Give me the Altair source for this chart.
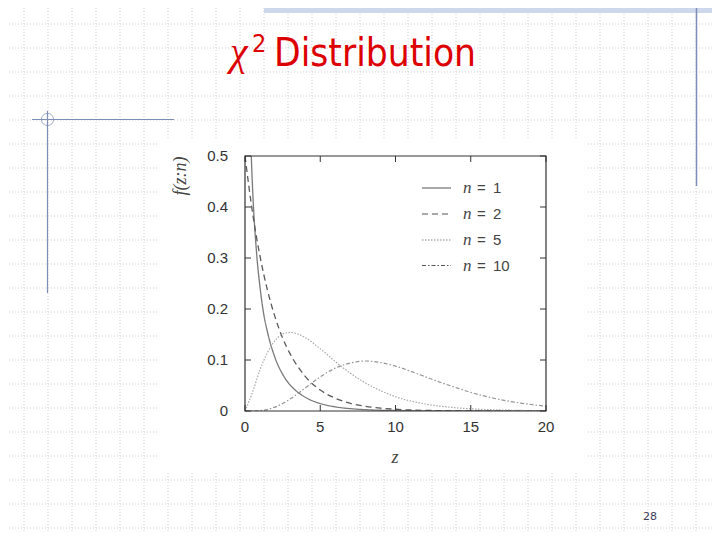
import altair as alt
import pandas as pd

# ---------------- data ----------------
series = ["1", "2", "5", "10"]
z1 = [0.3, 0.4, 0.5, 0.75, 1, 1.25, 1.5, 2, 2.5, 3, 3.5, 4, 5, 6, 7, 8, 10, 12, 15, 20]
f1 = [0.627, 0.516, 0.439, 0.317, 0.242, 0.189, 0.154, 0.104, 0.072, 0.051, 0.037, 0.027, 0.0146, 0.0081, 0.0046, 0.0026, 0.0009, 0.0003, 0.0001, 0.0]
z2 = [0, 0.5, 1, 1.5, 2, 2.5, 3, 4, 5, 6, 7, 8, 9, 10, 12, 15, 20]
f2 = [0.5, 0.389, 0.303, 0.236, 0.184, 0.143, 0.112, 0.068, 0.041, 0.025, 0.015, 0.0092, 0.0056, 0.0034, 0.0012, 0.0003, 0.0]
z5 = [0, 0.5, 1, 1.5, 2, 2.5, 3, 3.5, 4, 5, 6, 7, 8, 9, 10, 12, 14, 16, 18, 20]
f5 = [0, 0.037, 0.081, 0.115, 0.138, 0.151, 0.154, 0.151, 0.144, 0.122, 0.097, 0.074, 0.055, 0.040, 0.028, 0.0137, 0.0064, 0.0029, 0.0013, 0.0005]
z10 = [0, 1, 2, 3, 4, 5, 6, 7, 8, 9, 10, 11, 12, 13, 14, 15, 16, 17, 18, 19, 20]
f10 = [0, 0.0008, 0.0077, 0.0235, 0.045, 0.067, 0.084, 0.094, 0.098, 0.095, 0.088, 0.078, 0.067, 0.056, 0.046, 0.0365, 0.0286, 0.0221, 0.0169, 0.0127, 0.0095]
x_ticks = [0, 5, 10, 15, 20]
x_labels = ["0", "5", "10", "15", "20"]
y_ticks = [0, 0.1, 0.2, 0.3, 0.4, 0.5]
y_labels = ["0", "0.1", "0.2", "0.3", "0.4", "0.5"]
title_main = "Distribution"
page_no = "28"

# ---------------- styles ----------------
W, H = 301, 255
L, T = 237, 148          # plot origin inside the canvas
styles = {
    "1": dict(color="#7a7a7a", dash=[1, 0], w=1.3),
    "2": dict(color="#5a5a5a", dash=[6, 4], w=1.3),
    "5": dict(color="#a8a8a8", dash=[1.5, 1.5], w=1.2),
    "10": dict(color="#959595", dash=[4, 2, 1.5, 2], w=1.2),
}
zs = {"1": z1, "2": z2, "5": z5, "10": z10}
fs = {"1": f1, "2": f2, "5": f5, "10": f10}

xscale = alt.Scale(domain=[0, 20], nice=False, zero=False)
yscale = alt.Scale(domain=[0, 0.5], nice=False, zero=False)

def px(xp):   # page x -> plot-local x
    return xp - 8 - L

def py(yp):
    return yp - 8 - T

def X(field):
    return alt.X(field, scale=xscale, axis=None)

def Y(field):
    return alt.Y(field, scale=yscale, axis=None)

one = alt.Data(values=[{}])
layers = []

# dotted slide grid
grid_style = dict(color="#cfcfcf", strokeDash=[1, 2], strokeWidth=1)
for k in range(0, 31):
    layers.append(alt.Chart(one).mark_rule(**grid_style).encode(
        x=alt.value(px(24 * k)), y=alt.value(py(8)), y2=alt.value(py(540))))
for k in range(0, 23):
    layers.append(alt.Chart(one).mark_rule(**grid_style).encode(
        y=alt.value(py(24 * k)), x=alt.value(px(0)), x2=alt.value(px(720))))

# white picture box
layers.append(alt.Chart(one).mark_rect(color="white").encode(
    x=alt.value(px(158)), x2=alt.value(px(586)), y=alt.value(py(138)), y2=alt.value(py(471))))

# blue slide decorations
blue = "#7d8db5"
layers.append(alt.Chart(one).mark_rect(color="#cdd8ec").encode(
    x=alt.value(px(264)), x2=alt.value(px(720)), y=alt.value(py(8)), y2=alt.value(py(13))))
layers.append(alt.Chart(one).mark_rule(color=blue, strokeWidth=1.5).encode(
    x=alt.value(px(696.5)), y=alt.value(py(8)), y2=alt.value(py(186))))
layers.append(alt.Chart(one).mark_rule(color=blue, strokeWidth=1.2).encode(
    x=alt.value(px(32)), x2=alt.value(px(174)), y=alt.value(py(119.5))))
layers.append(alt.Chart(one).mark_rule(color=blue, strokeWidth=1.2).encode(
    x=alt.value(px(47.5)), y=alt.value(py(111)), y2=alt.value(py(293))))
layers.append(alt.Chart(one).mark_point(shape="circle", filled=False, color=blue, size=150, strokeWidth=1).encode(
    x=alt.value(px(47.5)), y=alt.value(py(119.5))))

# title
TFONT = "Liberation Sans Narrow, DejaVu Sans Condensed, Liberation Sans"
layers.append(alt.Chart(one).mark_text(text="\u03c7", font="Liberation Serif", fontStyle="italic", fontSize=40,
                                       color="#dd0000", align="left", baseline="alphabetic").encode(
    x=alt.value(px(230)), y=alt.value(py(65))))
layers.append(alt.Chart(one).mark_text(text="2", font=TFONT, fontSize=25, color="#dd0000",
                                       align="left", baseline="alphabetic").encode(
    x=alt.value(px(252)), y=alt.value(py(52))))
layers.append(alt.Chart(one).mark_text(text=title_main, font=TFONT, fontSize=38.5, color="#dd0000",
                                       align="left", baseline="alphabetic").encode(
    x=alt.value(px(274)), y=alt.value(py(66))))

# page number
layers.append(alt.Chart(one).mark_text(text=page_no, font="DejaVu Sans", fontSize=11, color="#3c3c5a",
                                       align="center", baseline="middle").encode(
    x=alt.value(px(650)), y=alt.value(py(517))))

# curves
for s in series:
    st = styles[s]
    df = pd.DataFrame({"z": zs[s], "f": fs[s]})
    layers.append(alt.Chart(df).mark_line(clip=True, color=st["color"], strokeDash=st["dash"],
                                          strokeWidth=st["w"], interpolate="monotone").encode(
        x=X("z:Q"), y=Y("f:Q")))

# plot frame
layers.append(alt.Chart(one).mark_rect(fill=None, stroke="#333333", strokeWidth=1.2).encode(
    x=alt.value(0), x2=alt.value(W), y=alt.value(0), y2=alt.value(H)))

# inward ticks (mirror on all sides) and tick labels
xt = pd.DataFrame({"z": x_ticks, "lab": x_labels})
yt = pd.DataFrame({"f": y_ticks, "lab": y_labels})
tick_style = dict(color="#333333", strokeWidth=1)
layers.append(alt.Chart(xt).mark_rule(**tick_style).encode(x=X("z:Q"), y=alt.value(H), y2=alt.value(H - 6)))
layers.append(alt.Chart(xt).mark_rule(**tick_style).encode(x=X("z:Q"), y=alt.value(0), y2=alt.value(6)))
layers.append(alt.Chart(yt).mark_rule(**tick_style).encode(y=Y("f:Q"), x=alt.value(0), x2=alt.value(6)))
layers.append(alt.Chart(yt).mark_rule(**tick_style).encode(y=Y("f:Q"), x=alt.value(W), x2=alt.value(W - 6)))
lab_style = dict(font="Liberation Sans", fontSize=15, color="#333333")
layers.append(alt.Chart(xt).mark_text(align="center", baseline="middle", **lab_style).encode(
    x=X("z:Q"), y=alt.value(py(427)), text="lab:N"))
layers.append(alt.Chart(yt).mark_text(align="right", baseline="middle", **lab_style).encode(
    y=Y("f:Q"), x=alt.value(px(228)), text="lab:N"))

# axis titles
layers.append(alt.Chart(one).mark_text(text="z", font="Liberation Serif", fontStyle="italic", fontSize=18,
                                       color="#444444", align="center", baseline="middle").encode(
    x=alt.value(px(395)), y=alt.value(py(458))))
layers.append(alt.Chart(one).mark_text(text="f(z:n)", font="Liberation Serif", fontStyle="italic", fontSize=18,
                                       color="#444444", align="center", baseline="middle", angle=270).encode(
    x=alt.value(px(181)), y=alt.value(py(176))))

# legend
leg_rows = [188, 214, 240, 265.5]
for s, yr in zip(series, leg_rows):
    st = styles[s]
    layers.append(alt.Chart(one).mark_rule(color="#555555" if s != "5" else "#888888", strokeDash=st["dash"],
                                           strokeWidth=1.2).encode(
        x=alt.value(px(422)), x2=alt.value(px(451)), y=alt.value(py(yr))))
    layers.append(alt.Chart(one).mark_text(text="n", font="Liberation Serif", fontStyle="italic", fontSize=17,
                                           color="#444444", align="left", baseline="middle").encode(
        x=alt.value(px(463)), y=alt.value(py(yr))))
    layers.append(alt.Chart(one).mark_text(text="=", font="Liberation Sans", fontSize=15,
                                           color="#444444", align="left", baseline="middle").encode(
        x=alt.value(px(477)), y=alt.value(py(yr))))
    layers.append(alt.Chart(one).mark_text(text=s, font="Liberation Sans", fontSize=15,
                                           color="#444444", align="left", baseline="middle").encode(
        x=alt.value(px(493)), y=alt.value(py(yr))))

chart = alt.layer(*layers).properties(
    width=W, height=H,
    padding={"left": L, "top": T, "right": 704 - L - W, "bottom": 524 - T - H},
    autosize=alt.AutoSizeParams(type="none"),
    background="white",
).configure_view(strokeWidth=0)

chart.save("out.html", embed_options={"renderer": "svg", "actions": False})
